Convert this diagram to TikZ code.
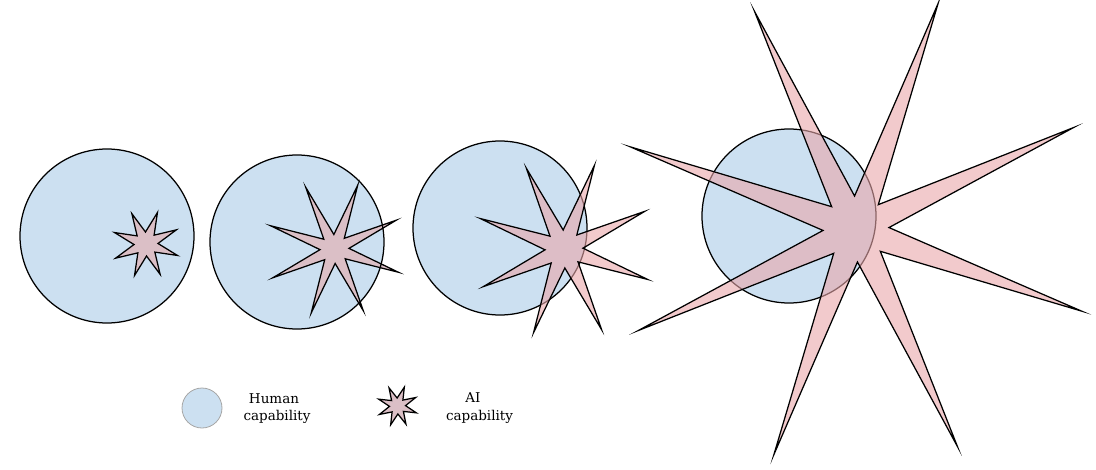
\documentclass[tikz,border=0pt]{standalone}
\usepackage{fontspec}
\newfontfamily\legendfont{DejaVu Serif}
\definecolor{humanblue}{RGB}{204,224,241}
\definecolor{aimauve}{RGB}{219,191,198}
\definecolor{aipink}{RGB}{233,167,170}
\tikzset{
  human/.style={fill=humanblue, draw=black, line width=1.25pt},
  humanfill/.style={fill=humanblue},
  outline/.style={draw=black, line width=1.25pt},
  aisolid/.style={fill=aimauve, draw=black, line width=1.25pt, line join=miter, miter limit=20},
  aitrans/.style={fill=aipink, fill opacity=0.6, draw=black, line width=1.25pt, line join=miter, miter limit=20},
  lbl/.style={anchor=base, inner sep=0pt, font=\legendfont\fontsize{13.5}{16}\selectfont},
}
\newcommand{\aistar}[5]{%
  \begin{scope}[shift={(#1,#2)}]
    \draw[#5] (20:#3) \foreach \k in {0,...,7}{ -- (20+45*\k:#3) -- (42.5+45*\k:#4) } -- cycle;
  \end{scope}}
\begin{document}
\begin{tikzpicture}[x=1pt,y=-1pt]
\useasboundingbox (0,0) rectangle (1096,469);
% stage 1
\draw[human] (107,236) circle (87);
\aistar{146}{244}{33.5}{12}{aisolid}
% stage 2
\fill[humanfill] (297,242) circle (87);
\aistar{334.5}{249}{68}{14.5}{aisolid}
\draw[outline] (297,242) circle (87);
% stage 3
\draw[human] (500,228) circle (87);
\aistar{564}{249}{89}{19}{aitrans}
% stage 4
\draw[human] (789,216) circle (87);
\aistar{856}{229}{240}{33}{aitrans}
% legend
\draw[fill=humanblue, draw=gray!70, line width=0.8pt] (202,408) circle (20);
\aistar{397.5}{406}{20}{8}{aisolid}
\node[lbl] (humanA) at (274,403) {Human};
\node[lbl] (humanB) at (277,420) {capability};
\node[lbl] (aiA) at (473,402) {AI};
\node[lbl] (aiB) at (479.5,420) {capability};
\end{tikzpicture}
\end{document}
